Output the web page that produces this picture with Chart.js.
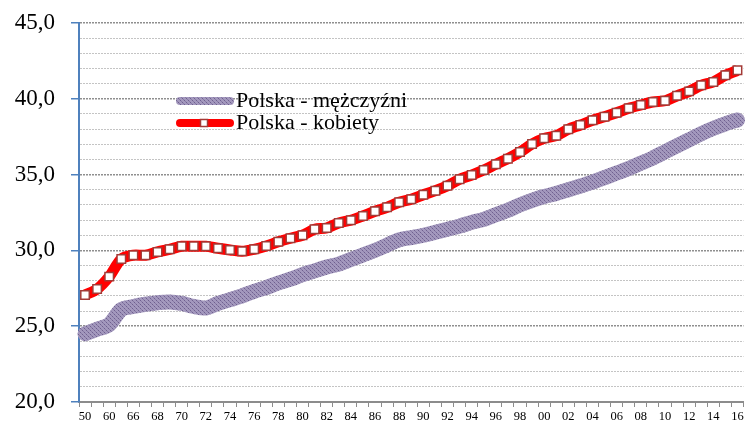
<!DOCTYPE html>
<html>
<head>
<meta charset="utf-8">
<script src="https://cdn.jsdelivr.net/npm/chart.js@4/dist/chart.umd.min.js"></script>
<style>
  body { margin: 0; background: #fff; }
  #wrap { width: 751px; height: 425px; position: relative; }
</style>
</head>
<body>
<div id="wrap"><canvas id="ageChart"></canvas></div>
<script>
// years on the category axis (1950, 1955, 1960, then yearly from 1965)
const years = ['50', '55', '60', '65', '66', '67', '68', '69', '70', '71', '72', '73', '74', '75', '76', '77', '78', '79',
    '80', '81', '82', '83', '84', '85', '86', '87', '88', '89', '90', '91', '92', '93', '94', '95', '96', '97', '98', '99',
    '00', '01', '02', '03', '04', '05', '06', '07', '08', '09', '10', '11', '12', '13', '14', '15', '16'];

const men = [24.5, 24.8, 25.1, 26.1, 26.3, 26.45, 26.55, 26.6, 26.5, 26.3, 26.2, 26.5, 26.75, 27.0, 27.3, 27.55, 27.85, 28.1,
    28.4, 28.65, 28.9, 29.1, 29.4, 29.7, 30.0, 30.35, 30.7, 30.85, 31.0, 31.2, 31.4, 31.6, 31.85, 32.05, 32.35, 32.65, 33.0, 33.3,
    33.55, 33.75, 34.0, 34.25, 34.5, 34.8, 35.1, 35.4, 35.75, 36.1, 36.5, 36.9, 37.3, 37.7, 38.05, 38.35, 38.6];

const women = [27.06, 27.45, 28.27, 29.43, 29.68, 29.68, 29.9, 30.07, 30.27, 30.27, 30.27, 30.14, 30.03, 29.94, 30.07, 30.29, 30.57, 30.8,
    31.0, 31.39, 31.48, 31.81, 31.99, 32.27, 32.58, 32.84, 33.17, 33.37, 33.67, 33.94, 34.27, 34.69, 34.97, 35.3, 35.68, 36.05, 36.49, 37.02,
    37.39, 37.57, 37.99, 38.27, 38.58, 38.82, 39.08, 39.37, 39.59, 39.79, 39.87, 40.2, 40.49, 40.89, 41.11, 41.55, 41.88];

const seriesNames = ['Polska - mężczyźni', 'Polska - kobiety'];

// crosshatch-ish pattern for the purple band
function makePattern() {
    const c = document.createElement('canvas');
    c.width = 4; c.height = 4;
    const p = c.getContext('2d');
    p.fillStyle = '#a398bd';
    p.fillRect(0, 0, 4, 4);
    p.fillStyle = '#6f608f';
    p.fillRect(0, 0, 1, 1);
    p.fillRect(2, 2, 1, 1);
    p.fillStyle = '#887ba6';
    p.fillRect(1, 1, 1, 1);
    p.fillRect(3, 3, 1, 1);
    return p.createPattern(c, 'repeat');
}
const purple = makePattern();

const serif = '"Liberation Serif", "Times New Roman", serif';

const legendInside = {
    id: 'legendInside',
    afterDatasetsDraw(chart) {
        const ctx = chart.ctx;
        ctx.save();
        ctx.lineCap = 'round';
        ctx.lineWidth = 8;
        ctx.strokeStyle = purple;
        ctx.beginPath(); ctx.moveTo(180, 101); ctx.lineTo(230, 101); ctx.stroke();
        ctx.strokeStyle = '#ff0000';
        ctx.beginPath(); ctx.moveTo(180, 123); ctx.lineTo(230, 123); ctx.stroke();
        ctx.fillStyle = '#fff';
        ctx.strokeStyle = '#a33a36';
        ctx.lineWidth = 1.5;
        ctx.fillRect(200.5, 119.5, 7, 7);
        ctx.strokeRect(200.5, 119.5, 7, 7);
        ctx.fillStyle = '#000';
        ctx.font = '22px ' + serif;
        ctx.textBaseline = 'middle';
        ctx.fillText(seriesNames[0], 236, 101);
        ctx.fillText(seriesNames[1], 236, 123);
        ctx.restore();
    }
};

const ctx = document.getElementById('ageChart').getContext('2d');
const ageChart = new Chart(ctx, {
    type: 'line',
    data: {
        labels: years,
        datasets: [{
            label: seriesNames[0],
            data: men,
            borderColor: purple,
            borderWidth: 15,
            borderCapStyle: 'round',
            borderJoinStyle: 'round',
            pointRadius: 0,
            tension: 0.3,
            fill: false
        }, {
            label: seriesNames[1],
            data: women,
            borderColor: '#ff0000',
            borderWidth: 11,
            borderJoinStyle: 'round',
            pointStyle: 'rect',
            pointRadius: 6,
            pointBorderWidth: 1.5,
            pointBackgroundColor: '#ffffff',
            pointBorderColor: '#a33a36',
            tension: 0.3,
            fill: false
        }]
    },
    options: {
        responsive: true,
        maintainAspectRatio: false,
        animation: false,
        layout: { padding: { top: 23, right: 3, left: 0, bottom: 0 } },
        plugins: {
            legend: { display: false },
            tooltip: { enabled: false }
        },
        scales: {
            x: {
                offset: true,
                afterFit: s => { s.height = 23; s.paddingLeft = 0; s.paddingRight = 0; },
                grid: {
                    offset: true,
                    drawOnChartArea: false,
                    tickLength: 5,
                    tickColor: '#8c8c8c'
                },
                border: { color: '#8c8c8c', width: 2 },
                ticks: {
                    autoSkip: false,
                    maxRotation: 0,
                    padding: 2,
                    color: '#000',
                    font: { family: serif, size: 12.5 },
                    callback: (v, i) => (i % 2 === 0 ? years[i] : '')
                }
            },
            y: {
                min: 20,
                max: 45,
                afterFit: s => { s.width = 79; s.paddingTop = 0; s.paddingBottom = 0; },
                grid: {
                    color: c => (c.tick.value % 5 === 0 ? '#8f8f8f' : '#c4c4c4'),
                    lineWidth: c => (c.tick.value % 5 === 0 ? 1.5 : 1),
                    tickColor: c => (c.tick.value % 5 === 0 ? '#4f81bd' : 'rgba(0,0,0,0)'),
                    tickLength: 8
                },
                border: { color: '#4f81bd', width: 2, dash: [2, 1] },
                ticks: {
                    stepSize: 1,
                    maxTicksLimit: 30,
                    autoSkip: false,
                    padding: 16,
                    color: '#000',
                    font: { family: serif, size: 23 },
                    callback: v => (v % 5 === 0 ? v.toFixed(1).replace('.', ',') : '')
                }
            }
        }
    },
    plugins: [legendInside]
});
</script>
</body>
</html>
